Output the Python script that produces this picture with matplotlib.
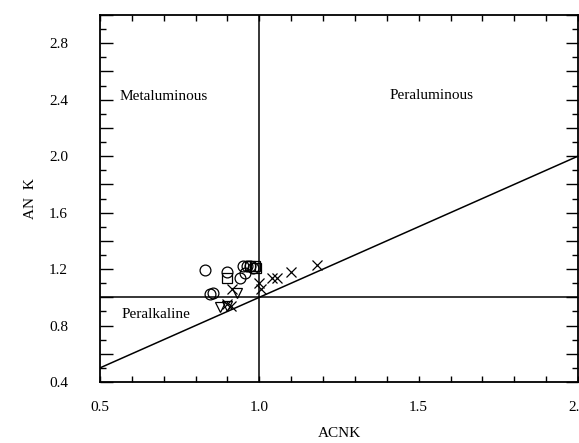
import matplotlib
matplotlib.use("Agg")
import matplotlib.pyplot as plt
from matplotlib.ticker import MultipleLocator, FuncFormatter

plt.rcParams['font.family'] = ['Liberation Serif', 'DejaVu Serif']

circle_x = [0.83, 0.90, 0.94, 0.955, 0.95, 0.96, 0.97, 0.98, 0.845, 0.855]
circle_y = [1.19, 1.18, 1.14, 1.17, 1.22, 1.22, 1.22, 1.21, 1.02, 1.03]
square_x = [0.90, 0.97, 0.985, 0.99]
square_y = [1.14, 1.22, 1.22, 1.21]
tri_x = [0.93, 0.875, 0.90]
tri_y = [1.03, 0.93, 0.94]
cross_x = [0.915, 0.90, 0.91, 1.00, 1.005, 1.04, 1.055, 1.10, 1.18]
cross_y = [1.06, 0.95, 0.94, 1.10, 1.06, 1.14, 1.14, 1.18, 1.23]

x_range = [0.5, 2.0]
y_range = [0.4, 3.0]

fig = plt.figure(figsize=(5.79, 4.43), dpi=100)
ax = fig.add_axes([100/579, 61/443, 478/579, 367/443])

ax.plot([1.0, 1.0], y_range, color='black', lw=1.1)
ax.plot(x_range, [1.0, 1.0], color='black', lw=1.1)
ax.plot(x_range, x_range, color='black', lw=1.1)

ms = 7.8
ax.plot(circle_x, circle_y, 'o', mfc='none', mec='black', ms=ms, mew=0.9, ls='none')
ax.plot(square_x, square_y, 's', mfc='none', mec='black', ms=ms-1, mew=0.9, ls='none')
ax.plot(tri_x, tri_y, 'v', mfc='none', mec='black', ms=ms, mew=0.9, ls='none')
ax.plot(cross_x, cross_y, 'x', color='black', ms=ms, mew=0.9, ls='none')

fs = 11
ax.text(0.70, 2.42, 'Metaluminous', ha='center', va='center', fontsize=fs)
ax.text(1.54, 2.43, 'Peraluminous', ha='center', va='center', fontsize=fs)
ax.text(0.675, 0.875, 'Peralkaline', ha='center', va='center', fontsize=fs)

ax.set_xlim(*x_range)
ax.set_ylim(*y_range)
ax.xaxis.set_major_locator(MultipleLocator(0.5))
ax.xaxis.set_minor_locator(MultipleLocator(0.1))
ax.xaxis.set_major_formatter(FuncFormatter(lambda v, p: f"{v:.1f}"))
ax.yaxis.set_major_locator(MultipleLocator(0.2))
ax.yaxis.set_minor_locator(MultipleLocator(0.1))

def yfmt(v, p):
    k = round(v / 0.2)
    return f"{v:.1f}" if k % 2 == 0 else ""
ax.yaxis.set_major_formatter(FuncFormatter(yfmt))

ax.tick_params(which='both', direction='in', top=True, right=True, labelsize=fs, width=1)
ax.tick_params(axis='x', which='both', length=4, pad=14)
ax.tick_params(axis='y', which='major', length=9, pad=23)
ax.tick_params(axis='y', which='minor', length=4)

for s in ax.spines.values():
    s.set_linewidth(1.3)

ax.set_xlabel('ACNK', fontsize=fs, labelpad=9)
ax.set_ylabel('AN  K', fontsize=fs, labelpad=9)

fig.savefig('out.png', dpi=100)
